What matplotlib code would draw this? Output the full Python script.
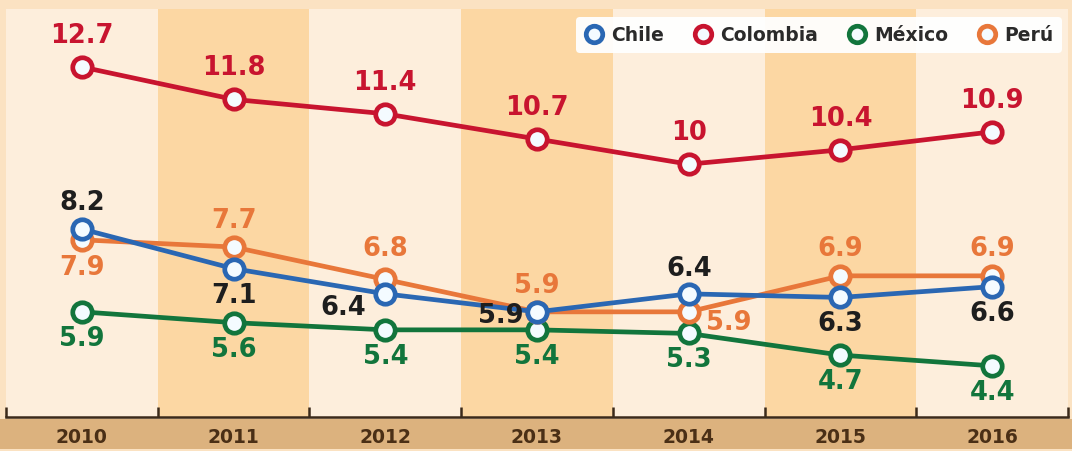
import matplotlib
matplotlib.use("Agg")
import matplotlib.pyplot as plt
from matplotlib.patches import Rectangle

years = ["2010", "2011", "2012", "2013", "2014", "2015", "2016"]
chile = [8.2, 7.1, 6.4, 5.9, 6.4, 6.3, 6.6]
colombia = [12.7, 11.8, 11.4, 10.7, 10.0, 10.4, 10.9]
mexico = [5.9, 5.6, 5.4, 5.4, 5.3, 4.7, 4.4]
peru = [7.9, 7.7, 6.8, 5.9, 5.9, 6.9, 6.9]

colors = {"Chile": "#2a67b3", "Colombia": "#c8142f", "México": "#12753c", "Perú": "#e8773a"}
label_colors = {"Chile": "#1e1e1e", "Colombia": "#c8142f", "México": "#12753c", "Perú": "#e8773a"}

# label offsets in pixels (dx, dy), dy positive = up
offsets = {
    "Chile": [(0, 27), (0, -26), (-42, -13), (-36, -3), (0, 26), (0, -26), (0, -26)],
    "Colombia": [(0, 32), (0, 32), (0, 32), (0, 32), (0, 32), (0, 32), (0, 32)],
    "México": [(0, -26), (0, -26), (0, -26), (0, -26), (0, -26), (0, -26), (0, -26)],
    "Perú": [(0, -27), (0, 27), (0, 31), (0, 27), (40, -10), (0, 28), (0, 28)],
}

W, H = 1072, 452
fig = plt.figure(figsize=(W / 100, H / 100), dpi=100)
fig.patch.set_facecolor("#fbe2c2")

# bottom strip
fig.patches.append(Rectangle((0, (H - 450) / H), 1, 30 / H, transform=fig.transFigure,
                             facecolor="#dcb27e", edgecolor="none", zorder=-5))

ax_left, ax_right = 6, 1068
ax_top, ax_bottom = 10, 418
ax = fig.add_axes([ax_left / W, (H - ax_bottom) / H, (ax_right - ax_left) / W, (ax_bottom - ax_top) / H])
ax.set_zorder(1)
ax.set_xlim(-0.5, len(years) - 0.5)
ax.set_ylim(2.98, 14.31)
ax.set_facecolor("#fdeedc")

for i in range(len(years)):
    c = "#fdeedc" if i % 2 == 0 else "#fcd7a3"
    ax.axvspan(i - 0.5, i + 0.5, color=c, zorder=0, lw=0)

series = [("Chile", chile), ("Colombia", colombia), ("México", mexico), ("Perú", peru)]
draw_order = ["Colombia", "México", "Perú", "Chile"]
x = list(range(len(years)))
handles = {}
for name in draw_order:
    vals = dict(series)[name]
    h, = ax.plot(x, vals, color=colors[name], lw=3.4, marker="o", ms=14,
                 mfc="#f4fbff", mec=colors[name], mew=3.4, zorder=3, clip_on=False,
                 label=name)
    handles[name] = h
    for xi, v, (dx, dy) in zip(x, vals, offsets[name]):
        ax.annotate(f"{v:g}", (xi, v), xytext=(dx * 0.72, dy * 0.72), textcoords="offset points",
                    ha="center", va="center", fontsize=18.5, fontweight="bold",
                    color=label_colors[name], zorder=4)

for s in ["top", "left", "right"]:
    ax.spines[s].set_visible(False)
ax.spines["bottom"].set_color("#3b2a1a")
ax.spines["bottom"].set_linewidth(1.8)
ax.set_yticks([])
ax.set_xticks([i - 0.5 for i in range(len(years) + 1)])
ax.set_xticklabels([])
ax.tick_params(axis="x", which="major", direction="in", length=7, width=1.8, color="#3b2a1a")
ax.set_xticks(x, minor=True)
ax.set_xticklabels(years, minor=True, fontweight="bold")
ax.tick_params(axis="x", which="minor", length=0, pad=7, labelsize=13.5, labelcolor="#4a2f16")

leg = ax.legend([handles[n] for n, _ in series], [n for n, _ in series], loc="upper right",
                bbox_to_anchor=(1062 / W, (H - 18) / H), bbox_transform=fig.transFigure,
                ncol=4, frameon=True, fancybox=True, fontsize=13.5, handlelength=1.0,
                handletextpad=0.4, columnspacing=1.6, borderpad=0.45, markerscale=0.85,
                borderaxespad=0)
leg.get_frame().set_facecolor("white")
leg.get_frame().set_edgecolor("none")
leg.get_frame().set_alpha(0.95)
for t in leg.get_texts():
    t.set_fontweight("bold")
    t.set_color("#2a2a2a")
for lh in leg.get_lines():
    lh.set_linestyle("none")

fig.savefig("out.png", dpi=100, facecolor=fig.get_facecolor())
